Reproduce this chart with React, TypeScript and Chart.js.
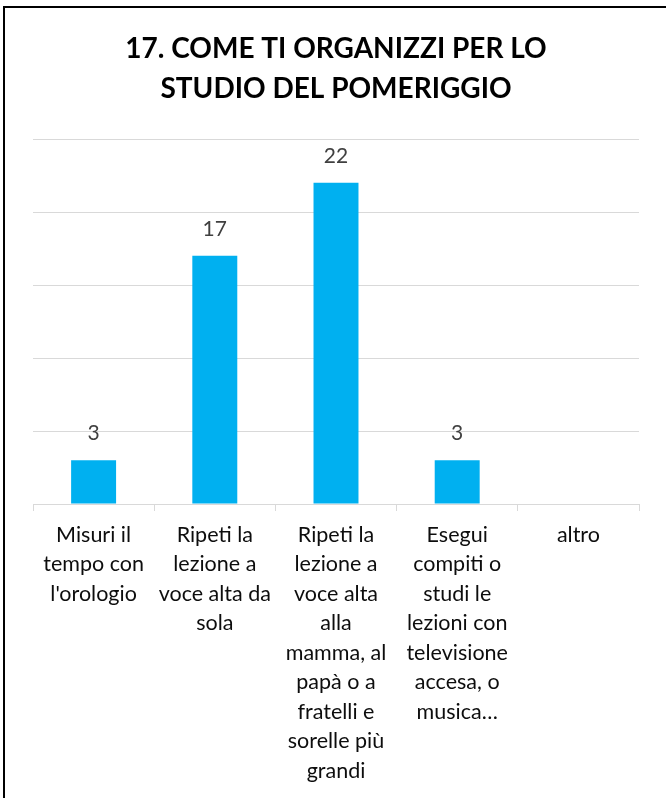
import React, { useEffect, useRef } from 'react';
import { Chart, registerables } from 'chart.js';

Chart.register(...registerables);

const TITLE_LINES = ['17. COME TI ORGANIZZI PER LO', 'STUDIO DEL POMERIGGIO'];

const CATEGORIES: string[][] = [
  ['Misuri il', 'tempo con', "l'orologio"],
  ['Ripeti la', 'lezione a', 'voce alta da', 'sola'],
  ['Ripeti la', 'lezione a', 'voce alta', 'alla', 'mamma, al', 'papà o a', 'fratelli e', 'sorelle più', 'grandi'],
  ['Esegui', 'compiti o', 'studi le', 'lezioni con', 'televisione', 'accesa, o', 'musica…'],
  ['altro'],
];

const VALUES: (number | null)[] = [3, 17, 22, 3, null];

const Y_MIN = 0;
const Y_MAX = 25;
const Y_STEP = 5;

const FONT = 'Lato';

const valueLabels = {
  id: 'valueLabels',
  afterDatasetsDraw(chart: any) {
    const ctx = chart.ctx;
    const meta = chart.getDatasetMeta(0);
    ctx.save();
    ctx.font = `21px ${FONT}`;
    ctx.fillStyle = '#404040';
    ctx.textAlign = 'center';
    ctx.textBaseline = 'middle';
    meta.data.forEach((bar: any, i: number) => {
      const v = VALUES[i];
      if (v == null) return;
      ctx.fillText(String(v), bar.x, bar.y - 27);
    });
    ctx.restore();
  },
};

export default function App() {
  const canvasRef = useRef<HTMLCanvasElement | null>(null);

  useEffect(() => {
    let chart: Chart | null = null;
    let cancelled = false;
    const make = () => {
      if (cancelled || !canvasRef.current) return;
      chart = new Chart(canvasRef.current, {
        type: 'bar',
        data: {
          labels: CATEGORIES,
          datasets: [
            {
              data: VALUES as any,
              backgroundColor: '#00B0F0',
              borderWidth: 0,
              barPercentage: 0.371,
              categoryPercentage: 1,
            },
          ],
        },
        options: {
          responsive: false,
          animation: false,
          devicePixelRatio: 1,
          layout: { padding: { left: 33, right: 27, top: 0, bottom: 0 } },
          plugins: {
            legend: { display: false },
            tooltip: { enabled: false },
            title: {
              display: true,
              text: TITLE_LINES,
              color: '#000000',
              font: { family: FONT, size: 28, weight: 'bold', lineHeight: 40 / 28 },
              padding: { top: 29, bottom: 30 },
            },
          },
          scales: {
            x: {
              offset: true,
              grid: {
                offset: true,
                drawOnChartArea: false,
                drawTicks: true,
                tickLength: 7,
                tickColor: '#d9d9d9',
                tickWidth: 1,
              },
              border: { display: true, color: '#d9d9d9', width: 1 },
              ticks: {
                color: '#0d0d0d',
                font: { family: FONT, size: 21.5, lineHeight: 29.5 / 21.5 },
                padding: 9,
                maxRotation: 0,
                minRotation: 0,
                autoSkip: false,
              },
              afterFit(scale: any) {
                scale.height = 294;
              },
            },
            y: {
              min: Y_MIN,
              max: Y_MAX,
              ticks: { display: false, stepSize: Y_STEP },
              grid: { color: '#d9d9d9', lineWidth: 1, drawTicks: false },
              border: { display: false },
              afterFit(scale: any) {
                scale.width = 0;
              },
            },
          },
        },
        plugins: [valueLabels],
      });
    };
    const fonts = (document as any).fonts;
    if (fonts && fonts.load) {
      Promise.all([fonts.load(`21px ${FONT}`), fonts.load(`bold 28px ${FONT}`)])
        .catch(() => {})
        .then(make);
    } else {
      make();
    }
    return () => {
      cancelled = true;
      if (chart) chart.destroy();
    };
  }, []);

  return (
    <div style={{ position: 'fixed', left: 0, top: 0, width: 666, height: 798, background: '#fff', overflow: 'hidden' }}>
      <canvas ref={canvasRef} width={666} height={798} style={{ position: 'absolute', left: 0, top: 0 }} />
      <div
        style={{
          position: 'absolute',
          left: 3,
          top: 6,
          right: 0,
          bottom: 0,
          borderLeft: '2px solid #000',
          borderTop: '2px solid #000',
          pointerEvents: 'none',
        }}
      />
    </div>
  );
}
